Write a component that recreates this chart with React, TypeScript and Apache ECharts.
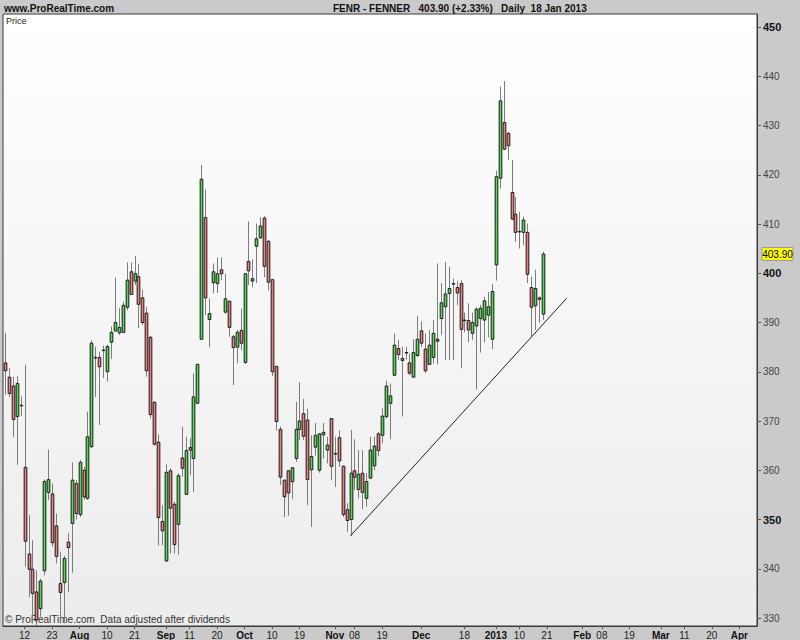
import { useEffect, useRef } from "react";
import * as echarts from "echarts";

// Trading calendar (LSE): first session shown, number of slots on the axis, closed days
const FIRST_SESSION = "2012-07-05";
const SESSION_COUNT = 192;
const MARKET_HOLIDAYS = ["2012-08-27", "2012-12-25", "2012-12-26", "2013-01-01", "2013-03-29", "2013-04-01"];

// FENR daily bars, one per session from FIRST_SESSION: [open, close, low, high]
const bars: [number, number, number, number][] = [
  [381.8, 380.2, 375.3, 387.9], [378.9, 375.6, 374.9, 380.7], [377.1, 370.3, 366.8, 379.0], [370.9, 377.6, 361.1, 379.1],
  [373.2, 373.2, 371.0, 375.0], [360.6, 345.6, 340.4, 381.4], [343.0, 339.9, 334.3, 350.9], [339.9, 335.0, 328.9, 345.8],
  [335.3, 329.6, 328.5, 339.7], [331.9, 337.5, 330.3, 338.0], [339.6, 357.7, 338.7, 358.1], [355.5, 358.1, 353.9, 364.2],
  [355.2, 345.3, 344.5, 357.3], [348.7, 342.5, 341.1, 351.2], [337.0, 335.2, 328.9, 343.5], [337.2, 342.1, 328.9, 342.6],
  [345.4, 344.3, 335.2, 347.2], [349.2, 358.0, 339.2, 361.6], [357.3, 351.2, 350.0, 358.0], [351.0, 361.6, 350.5, 362.1],
  [360.0, 354.6, 354.0, 360.7], [354.3, 366.8, 354.0, 371.9], [364.8, 385.8, 364.5, 386.4], [382.9, 382.9, 374.9, 385.1],
  [382.9, 381.0, 369.2, 384.1], [384.4, 384.4, 378.7, 385.3], [380.0, 385.1, 378.0, 385.5], [386.0, 388.0, 382.6, 389.2],
  [388.3, 390.0, 388.1, 399.1], [387.9, 389.0, 387.5, 392.9], [388.0, 393.5, 388.0, 394.2], [393.1, 398.6, 392.5, 402.2],
  [400.3, 395.7, 395.6, 402.2], [398.4, 399.9, 397.6, 403.5], [399.3, 393.7, 388.8, 401.9], [395.0, 390.0, 389.5, 396.7],
  [391.9, 380.2, 379.0, 393.2], [387.0, 371.3, 370.5, 387.3], [373.8, 365.3, 365.0, 374.0], [365.7, 350.4, 344.7, 367.3],
  [349.6, 347.7, 344.8, 352.9], [341.6, 359.6, 341.4, 361.2], [359.9, 352.3, 343.1, 360.4], [353.1, 344.9, 343.1, 353.6],
  [349.0, 358.9, 342.9, 359.4], [362.5, 360.4, 358.7, 368.8], [355.1, 364.0, 355.0, 366.8], [364.6, 364.1, 359.0, 366.5],
  [362.4, 374.9, 355.6, 379.7], [373.6, 381.5, 373.5, 381.6], [386.6, 419.1, 386.5, 422.0], [411.3, 395.0, 391.5, 417.0],
  [390.6, 391.8, 385.0, 394.9], [398.1, 400.3, 395.9, 402.0], [397.9, 399.9, 396.0, 403.2], [400.7, 399.9, 398.6, 403.2],
  [392.1, 394.8, 391.8, 399.9], [394.3, 389.0, 387.1, 394.5], [387.1, 384.9, 377.3, 387.5], [385.0, 388.0, 381.7, 388.5],
  [388.4, 385.8, 384.4, 392.8], [381.9, 399.9, 381.6, 400.0], [402.4, 400.5, 397.6, 410.5], [398.4, 398.9, 397.1, 402.8],
  [405.5, 407.0, 398.0, 410.1], [407.2, 409.6, 407.0, 411.4], [411.2, 401.4, 399.2, 411.6], [406.5, 398.2, 396.5, 406.7],
  [398.7, 380.0, 379.1, 398.8], [381.1, 369.9, 368.1, 381.2], [368.3, 358.6, 357.0, 368.9], [358.0, 354.6, 350.5, 358.0],
  [359.9, 355.4, 350.8, 360.0], [357.7, 360.5, 354.2, 360.6], [362.4, 368.3, 361.7, 373.9], [368.3, 370.0, 366.1, 377.9],
  [371.5, 366.9, 366.1, 374.5], [370.2, 358.1, 352.9, 372.5], [360.1, 362.8, 348.5, 367.1], [364.7, 367.1, 363.0, 369.6],
  [360.0, 367.4, 359.5, 367.5], [367.2, 367.7, 362.4, 369.6], [364.1, 365.1, 361.4, 366.8], [370.5, 360.8, 358.0, 370.6],
  [363.4, 363.4, 356.6, 366.8], [366.6, 361.9, 360.7, 368.1], [360.8, 351.0, 350.5, 361.0], [352.0, 349.8, 347.5, 353.3],
  [350.0, 359.4, 346.7, 368.2], [359.9, 358.6, 356.0, 366.3], [356.1, 359.2, 354.3, 364.1], [359.4, 355.5, 352.1, 364.1],
  [354.3, 357.7, 352.6, 359.4], [358.4, 364.1, 358.3, 366.8], [360.9, 364.9, 360.0, 366.8], [367.4, 364.0, 362.8, 367.8],
  [367.1, 371.0, 365.5, 372.6], [370.9, 377.1, 370.5, 378.2], [373.6, 375.1, 366.3, 377.6], [379.3, 385.4, 379.1, 387.8],
  [384.7, 383.5, 382.4, 386.4], [382.3, 382.7, 370.9, 385.1], [383.9, 383.9, 382.5, 385.1], [381.8, 379.7, 379.3, 383.7],
  [378.9, 383.9, 378.9, 386.6], [383.3, 386.6, 383.0, 391.3], [388.3, 385.8, 385.0, 390.2], [384.6, 380.2, 379.7, 387.8],
  [381.5, 385.4, 381.5, 388.5], [382.9, 387.8, 381.7, 390.5], [386.6, 386.2, 381.5, 402.0], [390.8, 394.0, 387.5, 398.0],
  [393.2, 395.8, 382.4, 402.3], [395.9, 396.9, 382.4, 401.3], [397.9, 397.9, 382.4, 398.9], [397.1, 396.0, 393.5, 398.5],
  [397.9, 388.6, 380.7, 398.6], [390.5, 390.5, 388.0, 392.0], [390.4, 388.5, 386.0, 393.9], [387.8, 390.0, 386.5, 392.0],
  [389.3, 392.7, 376.4, 393.1], [390.8, 392.9, 383.9, 393.6], [390.5, 394.4, 386.0, 395.2], [391.5, 393.2, 387.0, 396.2],
  [386.6, 396.3, 384.6, 397.8], [401.7, 419.6, 398.5, 420.8], [419.3, 435.0, 417.2, 437.9], [430.6, 425.2, 425.0, 439.0],
  [428.4, 425.9, 423.0, 428.7], [416.4, 411.0, 410.8, 423.0], [412.0, 408.3, 406.4, 415.5], [408.5, 408.5, 405.0, 412.5],
  [408.3, 410.8, 405.7, 411.5], [408.3, 399.8, 398.0, 410.1], [397.1, 393.1, 387.1, 399.3], [393.4, 396.9, 388.5, 400.7],
  [395.0, 394.7, 390.0, 395.3], [391.7, 403.9, 390.5, 404.4],
];

// Date axis labels
const tickDates = [
  "2012-07-12", "2012-07-23", "2012-08-01", "2012-08-10", "2012-08-21", "2012-09-03", "2012-09-11", "2012-09-20",
  "2012-10-01", "2012-10-10", "2012-10-19", "2012-11-01", "2012-11-08", "2012-11-19", "2012-12-03", "2012-12-18",
  "2013-01-02", "2013-01-10", "2013-01-21", "2013-02-01", "2013-02-08", "2013-02-19", "2013-03-01", "2013-03-11",
  "2013-03-20", "2013-04-02",
];
const tickTexts = [
  "12", "23", "Aug", "10", "21", "Sep", "11", "20", "Oct", "10", "19", "Nov", "08", "19", "Dec", "18",
  "2013", "10", "21", "Feb", "08", "19", "Mar", "11", "20", "Apr",
];
const periodLabels = ["Aug", "Sep", "Oct", "Nov", "Dec", "2013", "Feb", "Mar", "Apr"];

// Price scale labels
const priceTicks = [330, 340, 350, 360, 370, 380, 390, 400, 410, 420, 430, 440, 450];
const boldPrices = [350, 400, 450];
const PRICE_MIN = 328.38;
const PRICE_MAX = 452.64;

// Support line drawn under the Nov–Jan lows
const trendFrom = { date: "2012-11-07", price: 346.7 };
const trendTo = { date: "2013-01-28", price: 394.9 };

const lastClose = 403.9;
const headline = "FENR - FENNER   403.90 (+2.33%)   Daily  18 Jan 2013";

const FONT = "'Liberation Sans Narrow', 'Liberation Sans', Arial, sans-serif";
const UP = "#52dc52";
const DOWN = "#f08080";

function tradingSessions(first: string, count: number, closed: string[]): string[] {
  const out: string[] = [];
  const d = new Date(first + "T00:00:00Z");
  while (out.length < count) {
    const wd = d.getUTCDay();
    const iso = d.toISOString().slice(0, 10);
    if (wd !== 0 && wd !== 6 && !closed.includes(iso)) out.push(iso);
    d.setUTCDate(d.getUTCDate() + 1);
  }
  return out;
}

export default function App() {
  const ref = useRef<HTMLDivElement>(null);

  useEffect(() => {
    document.body.style.margin = "0";
    if (!ref.current) return;
    const chart = echarts.init(ref.current, undefined, { renderer: "svg", width: 800, height: 640 });

    const sessions = tradingSessions(FIRST_SESSION, SESSION_COUNT, MARKET_HOLIDAYS);
    const tickSet = new Set(tickDates);
    const showTick = (_i: number, value: string) => tickSet.has(value);

    const barData = bars.map((b, i) => [i, b[0], b[1], b[2], b[3]]);
    const trendData = [
      [sessions.indexOf(trendFrom.date), trendFrom.price],
      [sessions.indexOf(trendTo.date), trendTo.price],
    ];

    const option: any = {
      animation: false,
      backgroundColor: "#cacaca",
      textStyle: { fontFamily: FONT },
      grid: {
        left: 3,
        right: 43,
        top: 14,
        bottom: 14,
        show: true,
        borderColor: "#3a3a3a",
        borderWidth: 1,
        backgroundColor: new echarts.graphic.LinearGradient(0, 0, 0, 1, [
          { offset: 0, color: "#ffffff" },
          { offset: 1, color: "#ececec" },
        ]),
      },
      xAxis: {
        type: "category",
        data: sessions,
        boundaryGap: true,
        axisLine: { show: true, lineStyle: { color: "#3a3a3a" } },
        axisTick: { show: true, interval: showTick, alignWithLabel: true, length: 3, lineStyle: { color: "#555" } },
        axisLabel: {
          interval: showTick,
          margin: 4,
          fontSize: 10,
          color: "#222",
          fontFamily: FONT,
          formatter: (value: string) => {
            const t = tickTexts[tickDates.indexOf(value)] ?? "";
            return periodLabels.includes(t) ? `{m|${t}}` : t;
          },
          rich: { m: { fontWeight: "bold", fontSize: 10, color: "#111", fontFamily: FONT } },
        },
        splitLine: { show: false },
      },
      yAxis: {
        type: "value",
        position: "right",
        min: PRICE_MIN,
        max: PRICE_MAX,
        axisLine: { show: true, lineStyle: { color: "#3a3a3a" } },
        axisTick: { show: true, customValues: priceTicks, length: 4, lineStyle: { color: "#555" } },
        axisLabel: {
          customValues: priceTicks,
          margin: 6,
          fontSize: 10,
          color: "#444",
          fontFamily: FONT,
          formatter: (v: number) => (boldPrices.includes(v) ? `{b|${v}}` : `${v}`),
          rich: { b: { fontWeight: "bold", fontSize: 11, color: "#111", fontFamily: FONT } },
        },
        splitLine: { show: false },
      },
      series: [
        {
          type: "custom",
          name: "FENR",
          data: barData,
          encode: { x: 0, y: [1, 2, 3, 4] },
          clip: true,
          renderItem: (_params: any, api: any) => {
            const i = api.value(0);
            const o = api.value(1);
            const c = api.value(2);
            const lo = api.value(3);
            const hi = api.value(4);
            const pO = api.coord([i, o]);
            const pC = api.coord([i, c]);
            const pL = api.coord([i, lo]);
            const pH = api.coord([i, hi]);
            const band = api.size([1, 0])[0];
            const w = Math.max(2, band * 0.68);
            const x = Math.round(pO[0]) + 0.5;
            const top = Math.min(pO[1], pC[1]);
            const bot = Math.max(pO[1], pC[1]);
            const up = c >= o;
            return {
              type: "group",
              children: [
                {
                  type: "line",
                  shape: { x1: x, y1: pH[1], x2: x, y2: pL[1] },
                  style: { stroke: "#7c7c7c", lineWidth: 1 },
                },
                {
                  type: "rect",
                  shape: { x: x - w / 2, y: top, width: w, height: Math.max(bot - top, 0.5) },
                  style: { fill: up ? UP : DOWN, stroke: "#1a1a1a", lineWidth: 1 },
                },
              ],
            };
          },
          z: 2,
        },
        {
          type: "line",
          name: "support",
          data: trendData,
          symbol: "none",
          silent: true,
          lineStyle: { color: "#222", width: 1 },
          z: 3,
        },
      ],
    };

    chart.setOption(option);

    const py = chart.convertToPixel({ yAxisIndex: 0 }, lastClose) as number;

    chart.setOption({
      graphic: [
        {
          type: "text",
          x: 4,
          y: 3,
          style: { text: "www.ProRealTime.com", font: `bold 10px ${FONT}`, fill: "#111" },
        },
        {
          type: "text",
          x: 333,
          y: 3,
          style: { text: headline, font: `bold 10px ${FONT}`, fill: "#111" },
        },
        {
          type: "text",
          x: 6,
          y: 16,
          style: { text: "Price", font: `9px ${FONT}`, fill: "#222" },
        },
        {
          type: "text",
          x: 5,
          y: 614,
          style: { text: "© ProRealTime.com  Data adjusted after dividends", font: `10px ${FONT}`, fill: "#333" },
        },
        {
          type: "group",
          x: 762,
          y: Math.round(py) - 6.5,
          children: [
            {
              type: "rect",
              shape: { x: 0, y: 0, width: 31, height: 13 },
              style: { fill: "#ffff00", stroke: "#9a9a9a", lineWidth: 1 },
            },
            {
              type: "text",
              x: 15.5,
              y: 7,
              style: {
                text: lastClose.toFixed(2),
                align: "center",
                verticalAlign: "middle",
                font: `10px ${FONT}`,
                fill: "#000",
              },
            },
          ],
        },
      ],
    });

    return () => chart.dispose();
  }, []);

  return <div ref={ref} style={{ width: 800, height: 640 }} />;
}
